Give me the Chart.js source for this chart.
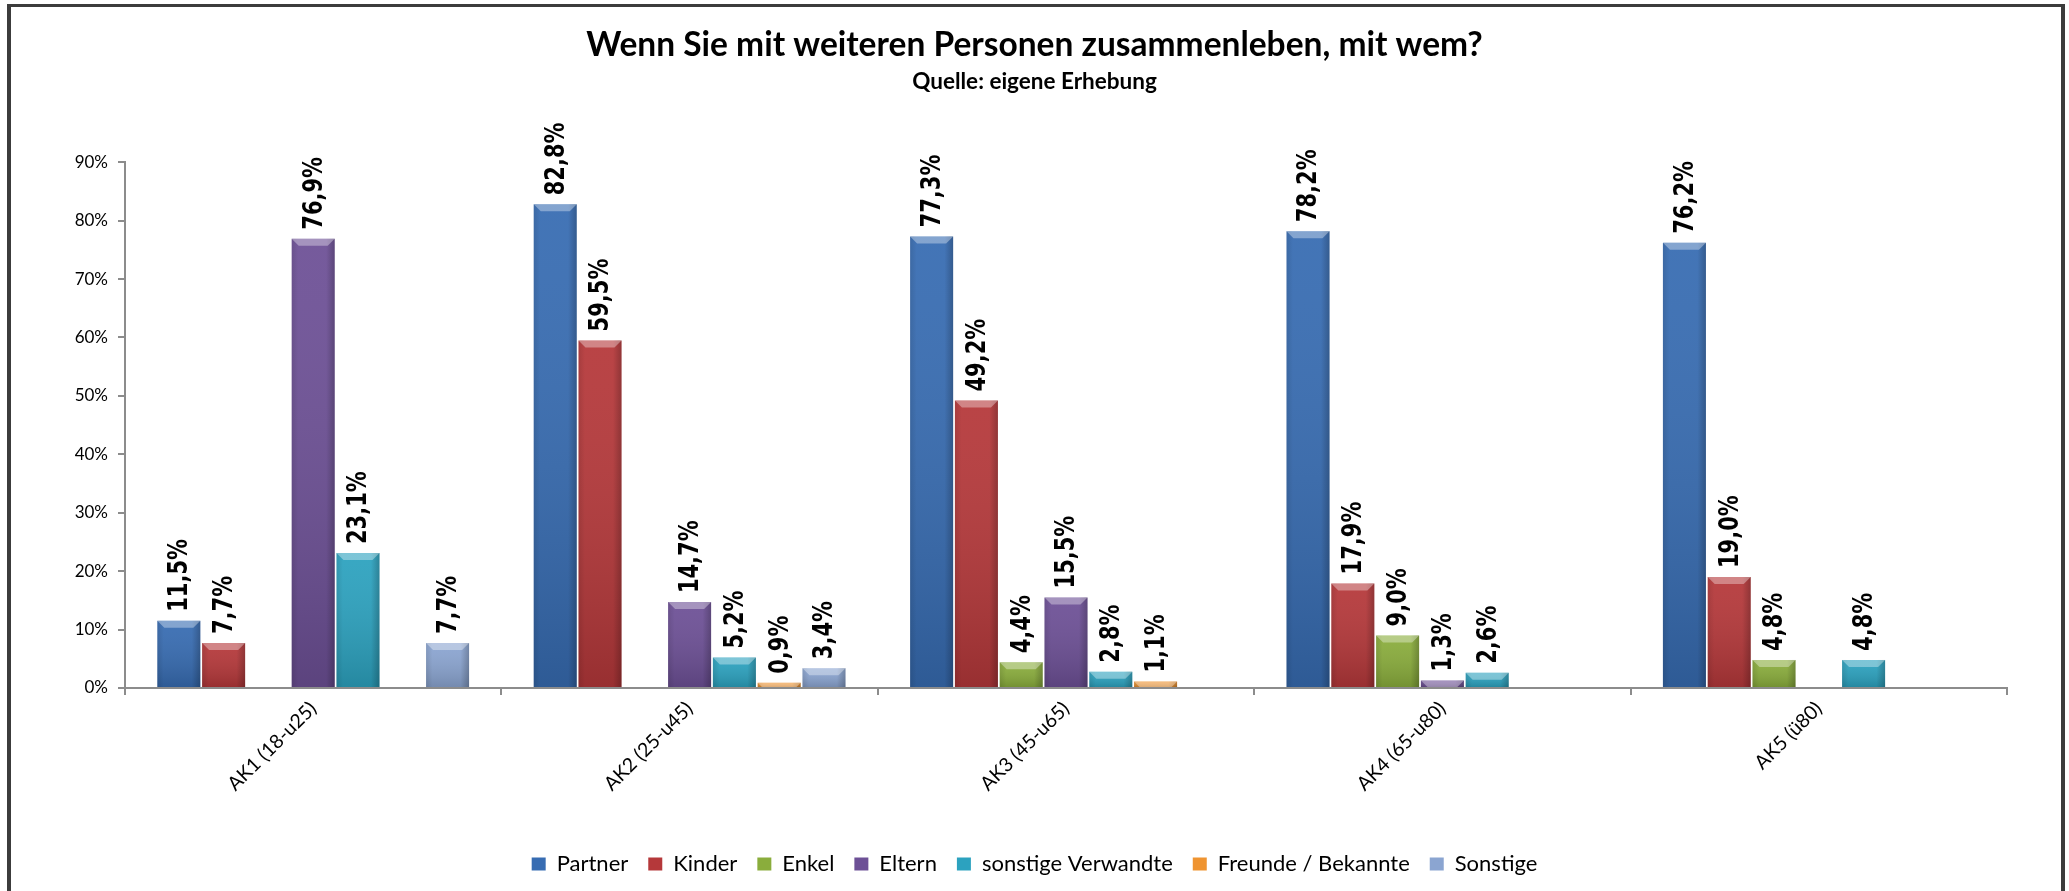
<!DOCTYPE html>
<html>
<head>
<meta charset="utf-8">
<script src="https://cdn.jsdelivr.net/npm/chart.js@4.4.0/dist/chart.umd.min.js"></script>
<style>
  html, body { margin: 0; padding: 0; background: #ffffff; overflow: hidden; }
  #frame { position: absolute; left: 7px; top: 4px; width: 2058px; height: 1000px;
           box-sizing: border-box; border: 4px solid #3c3c3c; border-top-width: 3px; }
  #c { position: absolute; left: 0; top: 0; }
</style>
</head>
<body>
<div id="frame"></div>
<canvas id="c" width="2069" height="891"></canvas>
<script>
// ---- data ----
const categories = ['AK1 (18-u25)', 'AK2 (25-u45)', 'AK3 (45-u65)', 'AK4 (65-u80)', 'AK5 (ü80)'];
const seriesNames = ['Partner', 'Kinder', 'Enkel', 'Eltern', 'sonstige Verwandte', 'Freunde / Bekannte', 'Sonstige'];
const partner   = [11.5, 82.8, 77.3, 78.2, 76.2];
const kinder    = [7.7, 59.5, 49.2, 17.9, 19.0];
const enkel     = [null, null, 4.4, 9.0, 4.8];
const eltern    = [76.9, 14.7, 15.5, 1.3, null];
const verwandte = [23.1, 5.2, 2.8, 2.6, 4.8];
const freunde   = [null, 0.9, 1.1, null, null];
const sonstige  = [7.7, 3.4, null, null, null];
const yTicks = [0, 10, 20, 30, 40, 50, 60, 70, 80, 90];
const titleText = 'Wenn Sie mit weiteren Personen zusammenleben, mit wem?';
const subtitleText = 'Quelle: eigene Erhebung';

const seriesValues = [partner, kinder, enkel, eltern, verwandte, freunde, sonstige];
const seriesColors = ['#376cb2', '#b5383a', '#8aad3c', '#6d5096', '#2ca2bf', '#ef9431', '#8ba5d1'];

const sansFamily = "'Lato', sans-serif";

const barLook = {
  id: 'barLook',
  afterDatasetsDraw(chart) {
    const ctx = chart.ctx;
    ctx.save();
    chart.data.datasets.forEach((ds, di) => {
      const meta = chart.getDatasetMeta(di);
      meta.data.forEach((bar, i) => {
        const v = ds.data[i];
        if (v === null || v === undefined) return;
        const p = bar.getProps(['x', 'y', 'base', 'width'], true);
        const l = p.x - p.width / 2, r = p.x + p.width / 2, t = p.y, b = p.base;
        const h = b - t;
        // vertical shading
        let g = ctx.createLinearGradient(0, t, 0, b);
        g.addColorStop(0, 'rgba(255,255,255,0.06)');
        g.addColorStop(1, 'rgba(0,0,0,0.16)');
        ctx.fillStyle = g;
        ctx.fillRect(l, t, p.width, h);
        // side shading
        g = ctx.createLinearGradient(l, 0, r, 0);
        g.addColorStop(0, 'rgba(0,0,0,0.10)');
        g.addColorStop(0.15, 'rgba(0,0,0,0)');
        g.addColorStop(0.8, 'rgba(0,0,0,0)');
        g.addColorStop(1, 'rgba(0,0,0,0.22)');
        ctx.fillStyle = g;
        ctx.fillRect(l, t, p.width, h);
        // top bevel
        const bh = Math.min(7, h);
        ctx.beginPath();
        ctx.moveTo(l, t); ctx.lineTo(r, t);
        ctx.lineTo(r - bh, t + bh); ctx.lineTo(l + bh, t + bh);
        ctx.closePath();
        ctx.fillStyle = 'rgba(255,255,255,0.35)';
        ctx.fill();
        // value label
        ctx.save();
        ctx.translate(p.x, t - 9);
        ctx.rotate(-Math.PI / 2);
        ctx.scale(1, 1.3);
        ctx.font = "bold 21px 'DejaVu Sans'";
        ctx.fillStyle = '#000000';
        ctx.textAlign = 'left';
        ctx.textBaseline = 'middle';
        ctx.fillText(v.toFixed(1).replace('.', ',') + '%', 0, 1);
        ctx.restore();
      });
    });
    ctx.restore();
  }
};

const datasets = seriesNames.map((name, k) => ({
  label: name,
  data: seriesValues[k],
  backgroundColor: seriesColors[k],
  borderWidth: 0,
  categoryPercentage: 0.833,
  barPercentage: 0.96
}));

new Chart(document.getElementById('c'), {
  type: 'bar',
  data: { labels: categories, datasets },
  plugins: [barLook],
  options: {
    responsive: false,
    animation: false,
    devicePixelRatio: 1,
    layout: { padding: { left: 62, right: 62, top: 0, bottom: 6 } },
    plugins: {
      tooltip: { enabled: false },
      title: {
        display: true, text: titleText, color: '#000000',
        font: { family: sansFamily, size: 33.5, weight: 'bold' },
        padding: { top: 25, bottom: 0 }
      },
      subtitle: {
        display: true, text: subtitleText, color: '#000000',
        font: { family: sansFamily, size: 22.5, weight: 'bold' },
        padding: { top: 3, bottom: 67 }
      },
      legend: {
        position: 'bottom',
        labels: {
          color: '#000000',
          font: { family: sansFamily, size: 22 },
          boxWidth: 14, boxHeight: 13, padding: 20
        }
      }
    },
    scales: {
      x: {
        grid: { display: true, drawOnChartArea: false, offset: true, tickLength: 7, color: '#8c8c8c', lineWidth: 2 },
        border: { color: '#8c8c8c', width: 2 },
        ticks: { minRotation: 45, maxRotation: 45, color: '#000000', padding: 2,
                 font: { family: sansFamily, size: 19.5 } },
        afterFit(scale) { scale.height = 145; }
      },
      y: {
        min: 0, max: 90,
        afterBuildTicks(scale) { scale.ticks = yTicks.map(v => ({ value: v })); },
        grid: { display: true, drawOnChartArea: false, tickLength: 7, color: '#8c8c8c', lineWidth: 2 },
        border: { color: '#8c8c8c', width: 2 },
        ticks: { color: '#000000', padding: 10, callback: v => v + '%',
                 font: { family: sansFamily, size: 17 } },
        afterFit(scale) { scale.width = 63; }
      }
    }
  }
});
</script>
</body>
</html>
